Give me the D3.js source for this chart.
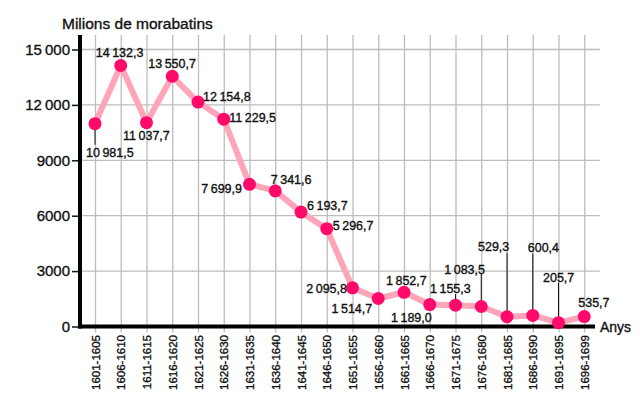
<!DOCTYPE html>
<html>
<head>
<meta charset="utf-8">
<script src="https://cdn.jsdelivr.net/npm/d3@7"></script>
<style>
  body { margin: 0; background: #fff; }
  text { font-family: "Liberation Sans", Arial, sans-serif; fill: #111; }
  .heavy { stroke: #111; stroke-width: 0.35px; }
</style>
</head>
<body>
<div id="chart"></div>
<script>
const periods = ['1601-1605', '1606-1610', '1611-1615', '1616-1620', '1621-1625',
  '1626-1630', '1631-1635', '1636-1640', '1641-1645', '1646-1650', '1651-1655',
  '1656-1660', '1661-1665', '1666-1670', '1671-1675', '1676-1680', '1681-1685',
  '1686-1690', '1691-1695', '1696-1699']
const values = [10981.5, 14132.3, 11037.7, 13550.7, 12154.8, 11229.5, 7699.9, 7341.6,
  6193.7, 5296.7, 2095.8, 1514.7, 1852.7, 1189.0, 1155.3, 1083.5, 529.3, 600.4, 205.7, 535.7]
const yTicks = [0, 3000, 6000, 9000, 12000, 15000]
const yTickLabels = ['0', '3000', '6000', '9000', '12\u2009000', '15\u2009000']

// label placement: [dx, dy, anchor, leader top (relative to point) or null]
const labelPos = [
  [-9, 29, 'start', 21], [-25, -13, 'start', null], [-23.5, 13, 'start', null],
  [-24, -13, 'start', null], [5, -5.5, 'start', null], [5.5, -1.5, 'start', null],
  [-7.5, 4.5, 'end', null], [-4.5, -11, 'start', null], [6, -7, 'start', null],
  [6, -2.7, 'start', null], [-5.5, 1, 'end', null], [-6, 9.5, 'end', null],
  [-18, -12, 'start', null], [2, 12.5, 'end', null], [-25.5, -16.5, 'start', -11],
  [-37, -36.5, 'start', -33], [-29, -70, 'start', -64], [-5, -68, 'start', -62],
  [-15.5, -45.7, 'start', -40], [-6, -14.6, 'start', null]
]

const W = 640, H = 397
const svg = d3.select('#chart').append('svg')
  .attr('width', W).attr('height', H)

const x = d3.scalePoint().domain(periods).range([95, 584.25])
const y = d3.scaleLinear().domain([0, 15000]).range([326.5, 49.5])

const fmt = d3.formatLocale({ decimal: ',', thousands: '\u2009', grouping: [3] }).format(',.1f')

const gridTop = 35
const axisLeft = 80
const gridRight = 600

// horizontal grid
svg.append('g').selectAll('line')
  .data(yTicks.slice(1))
  .join('line')
  .attr('x1', axisLeft).attr('x2', gridRight)
  .attr('y1', d => y(d)).attr('y2', d => y(d))
  .attr('stroke', '#bdbdbd').attr('stroke-width', 1.3)

// x axis (grey ticks run up as vertical grid)
const xAxis = svg.append('g')
  .attr('transform', `translate(0,${y(0)})`)
  .call(d3.axisBottom(x).tickSize(6).tickSizeOuter(0))
xAxis.select('.domain').remove()
xAxis.selectAll('.tick line')
  .attr('y1', gridTop - y(0))
  .attr('y2', 6)
  .attr('stroke', '#bdbdbd').attr('stroke-width', 1.3)
xAxis.selectAll('.tick text')
  .attr('class', 'heavy')
  .attr('transform', 'rotate(-90)')
  .attr('text-anchor', 'end')
  .attr('x', -8.5).attr('y', 0).attr('dy', '0.36em')
  .style('font-size', '11.5px')
  .style('font-family', '"Liberation Sans", Arial, sans-serif')
  .attr('fill', '#111')

// y axis
const yAxis = svg.append('g')
  .attr('transform', `translate(${axisLeft},0)`)
  .call(d3.axisLeft(y).tickValues(yTicks).tickSize(8)
    .tickFormat((d, i) => yTickLabels[i]))
yAxis.select('.domain').remove()
yAxis.selectAll('.tick line').attr('stroke', '#111').attr('stroke-width', 1.5)
yAxis.selectAll('.tick text')
  .attr('class', 'heavy')
  .attr('x', -10)
  .style('font-size', '15px')
  .style('font-family', '"Liberation Sans", Arial, sans-serif')
  .attr('fill', '#222')

// thick axis lines
svg.append('line')
  .attr('x1', axisLeft).attr('x2', axisLeft)
  .attr('y1', gridTop).attr('y2', y(0) + 2)
  .attr('stroke', '#000').attr('stroke-width', 4)
svg.append('line')
  .attr('x1', axisLeft - 2).attr('x2', 595)
  .attr('y1', y(0)).attr('y2', y(0))
  .attr('stroke', '#000').attr('stroke-width', 4)

// leader lines
svg.append('g').selectAll('line')
  .data(values.map((v, i) => ({ v, i })).filter(d => labelPos[d.i][3] !== null))
  .join('line')
  .attr('x1', d => x(periods[d.i])).attr('x2', d => x(periods[d.i]))
  .attr('y1', d => y(d.v) + (labelPos[d.i][3] > 0 ? 4 : 0))
  .attr('y2', d => y(d.v) + labelPos[d.i][3])
  .attr('stroke', '#111').attr('stroke-width', 1)

// line
const line = d3.line()
  .x((d, i) => x(periods[i]))
  .y(d => y(d))
svg.append('path')
  .attr('d', line(values))
  .attr('fill', 'none')
  .attr('stroke', '#ffa5b9')
  .attr('stroke-width', 6)
  .attr('stroke-linejoin', 'round')

// dots
svg.append('g').selectAll('circle')
  .data(values)
  .join('circle')
  .attr('cx', (d, i) => x(periods[i]))
  .attr('cy', d => y(d))
  .attr('r', 6.5)
  .attr('fill', '#ff0a6a')

// value labels
svg.append('g').selectAll('text')
  .data(values)
  .join('text')
  .attr('class', 'heavy')
  .attr('x', (d, i) => x(periods[i]) + labelPos[i][0])
  .attr('y', (d, i) => y(d) + labelPos[i][1])
  .attr('dy', '0.36em')
  .attr('text-anchor', (d, i) => labelPos[i][2])
  .style('font-size', '12.5px')
  .text(d => fmt(d))

// titles
svg.append('text')
  .attr('class', 'heavy')
  .attr('x', 62).attr('y', 29)
  .style('font-size', '15.5px')
  .text('Milions de morabatins')
svg.append('text')
  .attr('class', 'heavy')
  .attr('x', 600).attr('y', y(0)).attr('dy', '0.36em')
  .style('font-size', '14px')
  .text('Anys')
</script>
</body>
</html>
